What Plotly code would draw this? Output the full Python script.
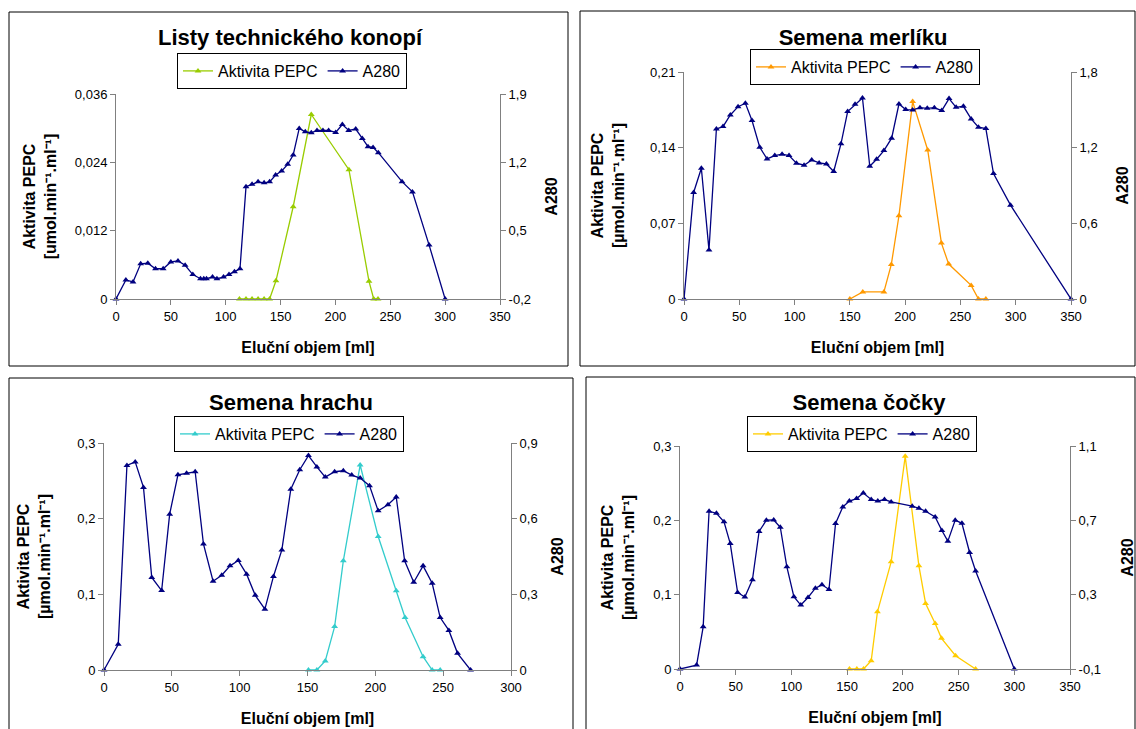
import plotly.graph_objects as go

W, H = 1136, 729
FONT = "Liberation Sans"
NAVY = "#000080"
AXC = "#808080"

# ---------------- data ----------------
titles = ["Listy technického konopí", "Semena merlíku", "Semena hrachu", "Semena čočky"]
pepc_colors = ["#99CC00", "#FF9900", "#33CCCC", "#FFCC00"]
x_title = "Eluční objem [ml]"
y_left_titles = ["Aktivita PEPC<br>[umol.min\u207b\u00b9.ml\u207b\u00b9]",
                 "Aktivita PEPC<br>[µmol.min\u207b\u00b9.ml\u207b\u00b9]",
                 "Aktivita PEPC<br>[µmol.min\u207b\u00b9.ml\u207b\u00b9]",
                 "Aktivita PEPC<br>[µmol.min\u207b\u00b9.ml\u207b\u00b9]"]
y_right_title = "A280"
series_names = ["Aktivita PEPC", "A280"]

# Panel 1 - Listy technického konopí
p1_a280_x = [0, 9, 15.5, 22.5, 29, 36, 43, 50, 56.5, 63, 70, 77, 80, 82.5, 88, 92, 98, 103, 108, 113,
             118.5, 124, 129.5, 135, 140, 145.5, 151, 156.5, 161.5, 167, 172.5, 178, 183.2, 188.6,
             193.8, 200.2, 206.3, 212.1, 218.5, 224.5, 229.7, 234.3, 239.1, 260.7, 270.2, 285.4, 300]
p1_a280_y = [-0.2, -0.005, -0.025, 0.16, 0.167, 0.11, 0.11, 0.18, 0.19, 0.145, 0.05, 0.008, 0.008, 0.008,
             0.025, 0.008, 0.025, 0.05, 0.08, 0.11, 0.95, 0.975, 1.0, 0.99, 1.0, 1.07, 1.11, 1.18, 1.275,
             1.547, 1.513, 1.503, 1.527, 1.527, 1.527, 1.506, 1.588, 1.527, 1.541, 1.445, 1.36, 1.353,
             1.299, 1.002, 0.897, 0.352, -0.2]
p1_pepc_x = [112.5, 118.5, 124, 129.5, 135, 140, 145.8, 161.5, 178, 212.3, 230.6, 234.9, 238.8]
p1_pepc_y = [0, 0, 0, 0, 0, 0, 0.0032, 0.0162, 0.0324, 0.0227, 0.0031, 0, 0]

# Panel 2 - Semena merlíku
p2_a280_x = [0, 8.7, 15.7, 22.6, 29.3, 35.3, 41.9, 48.9, 55.5, 61.5, 68.5, 75.1, 82.1, 88.7, 95.0,
             101.7, 108.6, 115.5, 122.2, 128.8, 135.4, 142, 148, 154.7, 161.4, 168, 174.2, 180.8,
             187.8, 194.4, 200.5, 206.8, 213.4, 220, 226.4, 233.1, 239.7, 246.1, 252.7, 259.7,
             266.3, 273, 279.9, 295.3, 350]
p2_a280_y = [0, 0.845, 1.037, 0.388, 1.349, 1.367, 1.459, 1.525, 1.552, 1.415, 1.203, 1.111, 1.137,
             1.148, 1.137, 1.077, 1.061, 1.103, 1.079, 1.071, 1.011, 1.232, 1.486, 1.544, 1.594,
             1.053, 1.108, 1.177, 1.275, 1.546, 1.502, 1.499, 1.517, 1.512, 1.517, 1.494, 1.589,
             1.52, 1.528, 1.428, 1.362, 1.351, 0.995, 0.744, 0]
p2_pepc_x = [150, 161.7, 180.8, 187.5, 194.4, 206.8, 220.4, 232.8, 239.4, 259.7, 266.3, 273]
p2_pepc_y = [0, 0.0065, 0.0065, 0.032, 0.077, 0.1826, 0.1379, 0.0517, 0.0323, 0.0126, 0, 0]

# Panel 3 - Semena hrachu
p3_a280_x = [0, 10.5, 16.9, 23, 29.1, 35.2, 42.5, 48.4, 54.5, 60.9, 67.2, 73.3, 80.4, 86.8, 92.9,
             99, 105.1, 111.5, 118.6, 124.9, 131.1, 137.7, 144.3, 150.7, 156.9, 163.1, 170, 176.4,
             182.6, 188.8, 195.7, 202.1, 209.3, 215.4, 221.6, 228.3, 235.2, 241.9, 247.8, 254.2,
             260.6, 270.2]
p3_a280_y = [0, 0.102, 0.811, 0.825, 0.724, 0.367, 0.315, 0.618, 0.774, 0.78, 0.786, 0.5, 0.352,
             0.376, 0.413, 0.434, 0.38, 0.296, 0.241, 0.371, 0.476, 0.717, 0.794, 0.85, 0.805, 0.765,
             0.786, 0.79, 0.773, 0.761, 0.731, 0.631, 0.655, 0.686, 0.433, 0.348, 0.413, 0.344,
             0.208, 0.157, 0.066, 0]
p3_pepc_x = [150.7, 156.9, 163.1, 170, 176.4, 188.8, 202.1, 215.4, 221.9, 235.2, 241.9, 247.8]
p3_pepc_y = [0, 0, 0.0119, 0.0574, 0.1443, 0.2709, 0.1765, 0.1046, 0.0693, 0.0176, 0, 0]

# Panel 4 - Semena čočky
p4_a280_x = [0, 14.9, 20.8, 26.1, 32.7, 39.5, 45.1, 51.7, 58.2, 65, 71, 77.5, 84.1, 90, 95.9, 102.2,
             108.4, 114.9, 121.5, 127.4, 133.7, 139.6, 146.1, 152, 158.5, 164.5, 171.6, 177.5, 183.5,
             189.5, 208.4, 214.4, 220.4, 229, 235, 240.4, 247, 253, 259.9, 265.3, 300]
p4_a280_y = [-0.1, -0.079, 0.127, 0.749, 0.738, 0.692, 0.575, 0.312, 0.287, 0.38, 0.64, 0.701, 0.702,
             0.663, 0.45, 0.289, 0.244, 0.285, 0.335, 0.353, 0.328, 0.683, 0.772, 0.804, 0.817, 0.847,
             0.812, 0.804, 0.812, 0.799, 0.776, 0.765, 0.749, 0.718, 0.645, 0.588, 0.701, 0.684,
             0.527, 0.427, -0.1]
p4_pepc_x = [152.1, 158.7, 164.7, 171.6, 177.2, 189.5, 202.1, 214.4, 220.4, 229, 234.7, 247.3, 265.3]
p4_pepc_y = [0, 0, 0, 0.0112, 0.077, 0.1442, 0.2861, 0.1388, 0.0882, 0.0613, 0.0412, 0.0179, 0]

# axis ticks
x_ticks = [[0, 50, 100, 150, 200, 250, 300, 350]] * 2 + [[0, 50, 100, 150, 200, 250, 300]] + \
          [[0, 50, 100, 150, 200, 250, 300, 350]]
left_ticks = [[0, 0.012, 0.024, 0.036], [0, 0.07, 0.14, 0.21], [0, 0.1, 0.2, 0.3], [0, 0.1, 0.2, 0.3]]
left_labels = [["0", "0,012", "0,024", "0,036"], ["0", "0,07", "0,14", "0,21"],
               ["0", "0,1", "0,2", "0,3"], ["0", "0,1", "0,2", "0,3"]]
right_ticks = [[-0.2, 0.5, 1.2, 1.9], [0, 0.6, 1.2, 1.8], [0, 0.3, 0.6, 0.9], [-0.1, 0.3, 0.7, 1.1]]
right_labels = [["-0,2", "0,5", "1,2", "1,9"], ["0", "0,6", "1,2", "1,8"],
                ["0", "0,3", "0,6", "0,9"], ["-0,1", "0,3", "0,7", "1,1"]]

data = [
    (p1_pepc_x, p1_pepc_y, p1_a280_x, p1_a280_y),
    (p2_pepc_x, p2_pepc_y, p2_a280_x, p2_a280_y),
    (p3_pepc_x, p3_pepc_y, p3_a280_x, p3_a280_y),
    (p4_pepc_x, p4_pepc_y, p4_a280_x, p4_a280_y),
]

# ---------------- layout (pixel geometry) ----------------
def px(x):
    return x / W

def py(y):
    return 1 - y / H

areas = [(116, 500, 94, 299), (684, 1071, 72, 299), (104, 511, 443, 670), (680, 1070, 446, 669)]
boxes = [(9, 568, 12, 366), (580, 1135, 11, 366), (9, 573, 378, 740), (586, 1135, 377, 740)]
title_span = [(9, 571), (591, 1135), (9, 573), (603, 1135)]
legend_pos = [(292, 53), (865, 49), (289, 416), (862, 416)]
title_standoff = [41, 19, 25, 28]
ylt_standoff = [14, 21, 22, 14]
yrt_standoff = [15, 20, 15, 22]
xt_standoff = 19

fig = go.Figure()
layout = dict(
    width=W, height=H, margin=dict(l=0, r=0, t=0, b=0, autoexpand=False),
    paper_bgcolor="white", plot_bgcolor="rgba(0,0,0,0)",
    font=dict(family=FONT, size=13, color="black"),
    shapes=[],
)

def tfont(size):
    return dict(size=size, family=FONT, color="black", weight="bold")

for k in range(4):
    xs_p, ys_p, xs_a, ys_a = data[k]
    xa = "x" if k == 0 else f"x{k+1}"
    yl = "y" if k == 0 else f"y{2*k+1}"
    yr = f"y{2*k+2}"
    xtop = f"x{k+5}"
    leg = "legend" if k == 0 else f"legend{k+1}"

    fig.add_trace(go.Scatter(
        x=xs_p, y=ys_p, xaxis=xa, yaxis=yl, name=series_names[0], legend=leg,
        mode="lines+markers", line=dict(color=pepc_colors[k], width=1.3),
        marker=dict(symbol="triangle-up", size=6, color=pepc_colors[k]), cliponaxis=False))
    fig.add_trace(go.Scatter(
        x=xs_a, y=ys_a, xaxis=xa, yaxis=yr, name=series_names[1], legend=leg,
        mode="lines+markers", line=dict(color=NAVY, width=1.3),
        marker=dict(symbol="triangle-up", size=6, color=NAVY), cliponaxis=False))
    # empty trace carrying the top "title" axis of the panel
    fig.add_trace(go.Scatter(x=[], y=[], xaxis=xtop, yaxis=yl, showlegend=False,
                             hoverinfo="skip", mode="markers"))

    l, r, t, b = areas[k]
    xkey = "xaxis" if k == 0 else f"xaxis{k+1}"
    ylkey = "yaxis" if k == 0 else f"yaxis{2*k+1}"
    yrkey = f"yaxis{2*k+2}"
    common = dict(showline=True, linecolor=AXC, linewidth=1, ticks="outside", ticklen=5,
                  tickcolor=AXC, showgrid=False, zeroline=False, automargin=True,
                  tickfont=dict(size=13, family=FONT, color="black"))
    xt = x_ticks[k]
    layout[xkey] = dict(domain=[px(l), px(r)], anchor=yl, range=[xt[0], xt[-1]],
                        tickvals=xt, ticktext=[str(v) for v in xt],
                        title=dict(text=x_title, font=tfont(16), standoff=xt_standoff), **common)
    lt = left_ticks[k]
    layout[ylkey] = dict(domain=[py(b), py(t)], anchor=xa, range=[lt[0], lt[-1]],
                         tickvals=lt, ticktext=left_labels[k],
                         title=dict(text=y_left_titles[k], font=tfont(16), standoff=ylt_standoff[k]),
                         **common)
    rt = right_ticks[k]
    layout[yrkey] = dict(overlaying=yl, side="right", anchor=xa, range=[rt[0], rt[-1]],
                         tickvals=rt, ticktext=right_labels[k],
                         title=dict(text=y_right_title, font=tfont(16), standoff=yrt_standoff[k]),
                         **common)
    sl, sr = title_span[k]
    layout[f"xaxis{k+5}"] = dict(domain=[px(sl), min(px(sr), 1.0)],
                                 anchor="free", position=py(t), side="top", range=[0, 1],
                                 showline=False, showticklabels=False, ticks="", showgrid=False,
                                 zeroline=False, automargin=True, fixedrange=True,
                                 title=dict(text=titles[k], font=tfont(22),
                                            standoff=title_standoff[k]))
    lx, ly = legend_pos[k]
    layout[leg] = dict(orientation="h", x=px(lx), xanchor="center", y=py(ly), yanchor="top",
                       bordercolor="black", borderwidth=1, bgcolor="white",
                       font=dict(size=16, family=FONT, color="black"), traceorder="normal",
                       itemwidth=30, tracegroupgap=0)
    bl, br, bt, bb = boxes[k]
    layout["shapes"].append(dict(type="rect", xref="paper", yref="paper",
                                 x0=px(bl), x1=px(br), y0=py(bb), y1=py(bt),
                                 line=dict(color="black", width=1), fillcolor="rgba(0,0,0,0)"))

fig.update_layout(**layout)
fig.write_html("out.html", config={"displayModeBar": False},
               post_script="document.body.style.margin='0';document.body.style.overflow='hidden';")
